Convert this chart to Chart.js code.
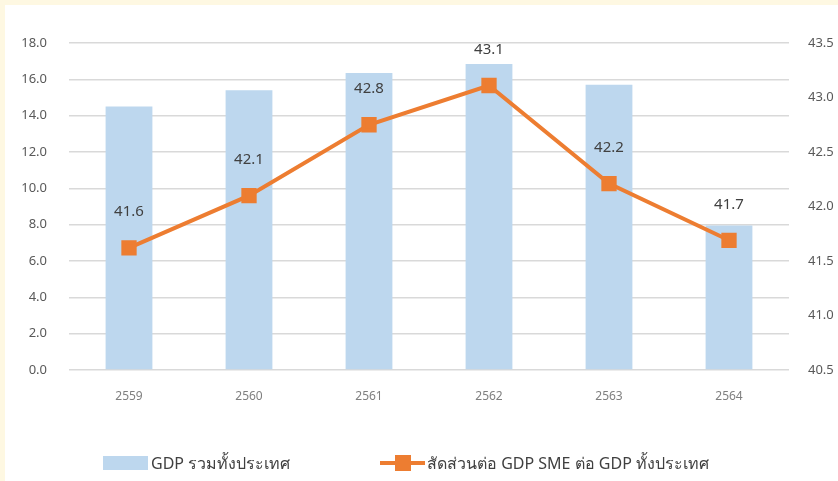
<!DOCTYPE html>
<html>
<head>
<meta charset="utf-8">
<script src="https://cdn.jsdelivr.net/npm/chart.js@4.4.0/dist/chart.umd.min.js"></script>
<style>
  html, body { margin: 0; padding: 0; background: #ffffff; }
  #wrap { position: relative; width: 833px; height: 476px; border-left: 5px solid #FEF8E2; border-top: 5px solid #FEF8E2; background: #fff; }
  canvas { display: block; }
  .leg { position: absolute; top: 445px; height: 26px; display: flex; align-items: center;
         font-family: 'Segoe UI', 'Noto Sans', 'Open Sans', sans-serif; font-size: 16px; color: #404040; white-space: nowrap; }
  .sw-box { width: 45px; height: 14px; background: #BDD7EE; margin-right: 3px; }
  .sw-line { position: relative; width: 45px; height: 18px; margin-right: 2px; }
  .sw-line::before { content: ''; position: absolute; left: 0; right: 0; top: 7px; height: 4px; background: #ED7D31; }
  .sw-line::after { content: ''; position: absolute; left: 15px; top: 1px; width: 16px; height: 16px; background: #ED7D31; }
</style>
</head>
<body>
<div id="wrap">
  <canvas id="c" width="833" height="476"></canvas>
  <div class="leg" id="leg1" style="left:98px;"><span class="sw-box"></span><span id="t1"></span></div>
  <div class="leg" id="leg2" style="left:375px;"><span class="sw-line"></span><span id="t2"></span></div>
</div>
<script>
const categories = ['2559', '2560', '2561', '2562', '2563', '2564'];
const gdpTotal = [14.5, 15.4, 16.35, 16.85, 15.7, 7.95];
const smeShare = [41.62, 42.1, 42.75, 43.11, 42.21, 41.69];
const barLabel = 'GDP รวมทั้งประเทศ';
const lineLabel = 'สัดส่วนต่อ GDP SME ต่อ GDP ทั้งประเทศ';

document.getElementById('t1').textContent = barLabel;
document.getElementById('t2').textContent = lineLabel;

const FONT = "'Segoe UI', 'Noto Sans', 'Open Sans', sans-serif";
const BLUE = '#BDD7EE';
const ORANGE = '#ED7D31';

const valueLabels = {
  id: 'valueLabels',
  afterDatasetsDraw(chart) {
    const ctx = chart.ctx;
    const meta = chart.getDatasetMeta(1);
    ctx.save();
    ctx.font = "15px " + FONT;
    ctx.fillStyle = '#404040';
    ctx.textAlign = 'center';
    ctx.textBaseline = 'middle';
    meta.data.forEach((pt, i) => {
      ctx.fillText(smeShare[i].toFixed(1), pt.x, pt.y - 36);
    });
    ctx.restore();
  }
};

new Chart(document.getElementById('c'), {
  data: {
    labels: categories,
    datasets: [
      {
        type: 'bar',
        label: barLabel,
        data: gdpTotal,
        backgroundColor: BLUE,
        yAxisID: 'y',
        barPercentage: 0.39,
        categoryPercentage: 1.0,
        order: 2
      },
      {
        type: 'line',
        label: lineLabel,
        data: smeShare,
        borderColor: ORANGE,
        backgroundColor: ORANGE,
        borderWidth: 4,
        pointStyle: 'rect',
        pointRadius: 8,
        pointHoverRadius: 8,
        yAxisID: 'y1',
        tension: 0,
        order: 1
      }
    ]
  },
  options: {
    responsive: false,
    animation: false,
    layout: { padding: { top: 38, bottom: 71, left: 0, right: 0 } },
    scales: {
      x: {
        grid: { display: false, drawTicks: false },
        border: { display: false },
        ticks: { color: '#7f7f7f', font: { size: 12, family: FONT }, padding: 19 },
        afterFit(s) { s.height = 40; }
      },
      y: {
        position: 'left',
        min: 0, max: 18,
        ticks: { stepSize: 2, color: '#595959', font: { size: 13, family: FONT }, padding: 22,
                 callback: v => Number(v).toFixed(1) },
        grid: { color: '#d9d9d9', lineWidth: 1.5, drawTicks: false },
        border: { display: false },
        afterFit(s) { s.width = 64; }
      },
      y1: {
        position: 'right',
        min: 40.5, max: 43.5,
        ticks: { stepSize: 0.5, color: '#595959', font: { size: 13, family: FONT }, padding: 19,
                 callback: v => Number(v).toFixed(1) },
        grid: { display: false, drawTicks: false },
        border: { display: false },
        afterFit(s) { s.width = 49; }
      }
    },
    plugins: {
      tooltip: { enabled: false },
      legend: { display: false }
    }
  },
  plugins: [valueLabels]
});
</script>
</body>
</html>
